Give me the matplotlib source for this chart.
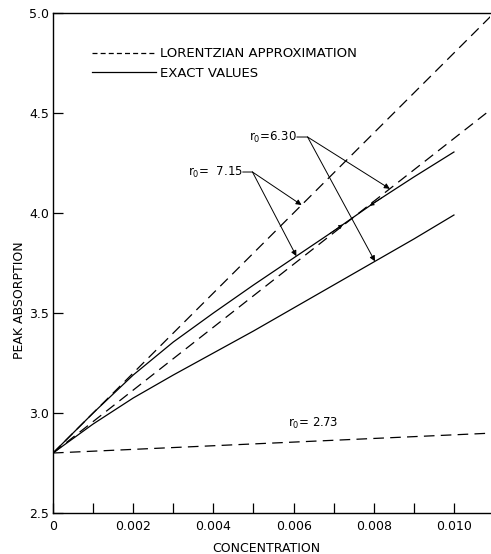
import numpy as np
import matplotlib
matplotlib.use("Agg")
import matplotlib.pyplot as plt
from matplotlib.lines import Line2D

plt.rcParams['font.family'] = ['DejaVu Sans']
plt.rcParams['mathtext.default'] = 'regular'

# ---- data ----
conc_lin = [0.0, 0.011]
lorentz_715 = [2.80, 5.00]
lorentz_630 = [2.80, 4.53]
lorentz_273 = [2.80, 2.90]

conc_exact = [0.0, 0.001, 0.002, 0.003, 0.004, 0.005, 0.006, 0.007, 0.008, 0.009, 0.010]
exact_715 = [2.80, 3.00, 3.19, 3.355, 3.50, 3.64, 3.775, 3.91, 4.05, 4.18, 4.305]
exact_630 = [2.80, 2.945, 3.075, 3.19, 3.30, 3.41, 3.525, 3.64, 3.755, 3.87, 3.99]

xticks = [0, 0.002, 0.004, 0.006, 0.008, 0.010]
xticklabels = ["0", "0.002", "0.004", "0.006", "0.008", "0.010"]
yticks = [2.5, 3.0, 3.5, 4.0, 4.5, 5.0]
yticklabels = ["2.5", "3.0", "3.5", "4.0", "4.5", "5.0"]

fig = plt.figure(figsize=(4.91, 5.54), dpi=100)
ax = fig.add_axes([0.108, 0.074, 0.890, 0.9025])

lw = 0.9
dash = (8.5, 5.0)
ax.plot(conc_lin, lorentz_715, color='black', lw=lw, dashes=dash)
ax.plot(conc_lin, lorentz_630, color='black', lw=lw, dashes=dash)
ax.plot(conc_lin, lorentz_273, color='black', lw=lw, dashes=dash)
ax.plot(conc_exact, exact_715, color='black', lw=lw)
ax.plot(conc_exact, exact_630, color='black', lw=lw)

ax.set_xlim(0, 0.0109)
ax.set_ylim(2.5, 5.0)

ax.spines['right'].set_visible(False)
for s in ['left', 'bottom', 'top']:
    ax.spines[s].set_linewidth(1.0)

ax.set_xticks(xticks)
ax.set_xticklabels(xticklabels)
ax.set_xticks(np.arange(0.001, 0.0109, 0.002), minor=True)
ax.set_yticks(yticks)
ax.set_yticklabels(yticklabels)
ax.tick_params(axis='x', which='both', direction='in', length=7, width=0.9,
               labelsize=9, pad=5, top=False)
ax.tick_params(axis='y', which='both', direction='in', length=7, width=0.9,
               labelsize=9, pad=3, right=False)

ax.set_xlabel("CONCENTRATION", fontsize=9)
ax.set_ylabel("PEAK ABSORPTION", fontsize=9)
ax.xaxis.set_label_coords(0.487, -0.058)
ax.yaxis.set_label_coords(-0.062, 0.426)

# legend
handles = [Line2D([], [], color='black', lw=lw, dashes=(4.0, 2.5)),
           Line2D([], [], color='black', lw=lw)]
leg = ax.legend(handles, ["LORENTZIAN APPROXIMATION", "EXACT VALUES"],
                loc='upper left', bbox_to_anchor=(0.078, 0.942), frameon=False,
                fontsize=9.5, handlelength=4.8, handletextpad=0.3,
                labelspacing=0.5, borderaxespad=0)

# annotations
arrow = dict(arrowstyle='-|>', color='black', lw=0.7, mutation_scale=8,
             shrinkA=0, shrinkB=0)
leader = dict(arrowstyle='-', color='black', lw=0.7, shrinkA=0, shrinkB=0)

# r0 = 7.15
t715 = (0.00473, 4.205)
l715 = (0.004975, 4.205)
ax.text(t715[0], t715[1], "r$_0$=  7.15", fontsize=8.5, ha='right', va='center')
ax.annotate("", xy=l715, xytext=t715, arrowprops=leader)
c1 = 0.0062
ax.annotate("", xy=(c1, np.interp(c1, conc_lin, lorentz_715)), xytext=l715, arrowprops=arrow)
c2 = 0.00607
ax.annotate("", xy=(c2, np.interp(c2, conc_exact, exact_715)), xytext=l715, arrowprops=arrow)

# r0 = 6.30
t630 = (0.00608, 4.38)
l630 = (0.00635, 4.38)
ax.text(t630[0], t630[1], "r$_0$=6.30", fontsize=8.5, ha='right', va='center')
ax.annotate("", xy=l630, xytext=t630, arrowprops=leader)
c3 = 0.0084
ax.annotate("", xy=(c3, np.interp(c3, conc_lin, lorentz_630)), xytext=l630, arrowprops=arrow)
c4 = 0.00803
ax.annotate("", xy=(c4, np.interp(c4, conc_exact, exact_630)), xytext=l630, arrowprops=arrow)

# small arrowheads at the crossing of exact r0=7.15 and Lorentzian r0=6.30
small = dict(arrowstyle='-|>', color='black', lw=0.6, mutation_scale=6,
             shrinkA=0, shrinkB=0)
for ca, cb in [(0.0082, 0.0079), (0.0069, 0.00723)]:
    ax.annotate("", xy=(cb, np.interp(cb, conc_exact, exact_715)),
                xytext=(ca, np.interp(ca, conc_exact, exact_715)), arrowprops=small)

# r0 = 2.73
ax.text(0.00585, 2.95, "r$_0$= 2.73", fontsize=8.5, ha='left', va='center')

fig.savefig("out.png", dpi=100)
